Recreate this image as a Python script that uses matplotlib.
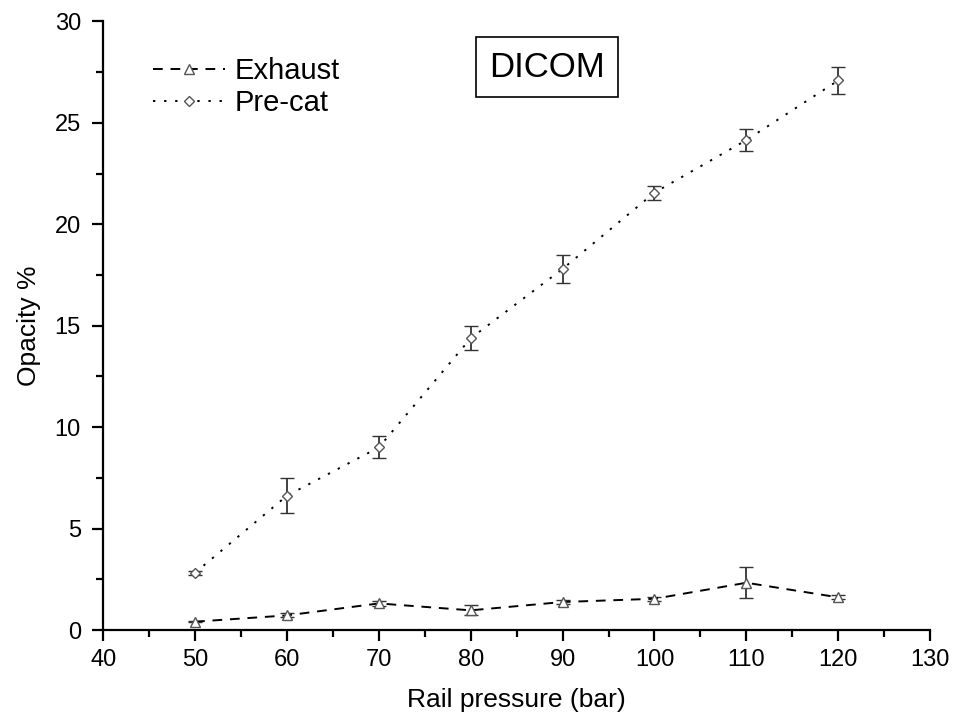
import matplotlib.pyplot as plt
from matplotlib.lines import Line2D
from matplotlib.ticker import MultipleLocator

plt.rcParams['font.family'] = ['Liberation Sans', 'DejaVu Sans']

# rail pressure settings (bar)
pressure = [50, 60, 70, 80, 90, 100, 110, 120]

# opacity readings (%) with standard deviation
exhaust = [0.41, 0.72, 1.31, 0.97, 1.38, 1.54, 2.33, 1.61]
exhaust_err = [0.03, 0.10, 0.12, 0.25, 0.10, 0.10, 0.76, 0.10]
precat = [2.82, 6.62, 9.00, 14.38, 17.80, 21.56, 24.15, 27.09]
precat_err = [0.10, 0.87, 0.54, 0.60, 0.70, 0.35, 0.53, 0.66]

fig = plt.figure(figsize=(9.55, 7.28), dpi=100)
ax = fig.add_axes([0.108, 0.1346, 0.866, 0.836])

ex_style = dict(color='black', lw=1.4, dashes=(5, 4), marker='^', ms=6.5,
                mfc='white', mec='#555555', mew=1.0)
pc_style = dict(color='black', lw=1.4, dashes=(1.2, 4.5), marker='D', ms=5.5,
                mfc='white', mec='#555555', mew=1.0)
err_style = dict(ecolor='#333333', elinewidth=1.3, capsize=5, capthick=1.3)

ax.errorbar(pressure, exhaust, yerr=exhaust_err, **ex_style, **err_style)
ax.errorbar(pressure, precat, yerr=precat_err, **pc_style, **err_style)

ax.set_xlim(40, 130)
ax.set_ylim(0, 30)
ax.xaxis.set_major_locator(MultipleLocator(10))
ax.xaxis.set_minor_locator(MultipleLocator(5))
ax.yaxis.set_major_locator(MultipleLocator(5))
ax.yaxis.set_minor_locator(MultipleLocator(2.5))

for s in ['top', 'right']:
    ax.spines[s].set_visible(False)
for s in ['left', 'bottom']:
    ax.spines[s].set_linewidth(1.6)
ax.tick_params(which='major', direction='out', length=8, width=1.6,
               labelsize=17, colors='black')
ax.tick_params(axis='y', which='major', pad=8)
ax.tick_params(axis='x', which='major', pad=6)
ax.tick_params(which='minor', direction='out', length=5, width=1.6)

ax.set_xlabel('Rail pressure (bar)', fontsize=19, labelpad=12)
ax.set_ylabel('Opacity %', fontsize=19, labelpad=10)

# legend shows only line and marker, no error bars
handles = [Line2D([], [], **ex_style), Line2D([], [], **pc_style)]
ax.legend(handles, ['Exhaust', 'Pre-cat'], loc='upper left',
          bbox_to_anchor=(0.028, 0.985), frameon=False, fontsize=21,
          handlelength=2.5, handletextpad=0.3, labelspacing=0.15,
          numpoints=1)

ax.text(0.537, 0.925, 'DICOM', transform=ax.transAxes, fontsize=25,
        ha='center', va='center',
        bbox=dict(boxstyle='square,pad=0.38', fc='white', ec='black', lw=1.2))

fig.savefig('out.png', dpi=100)
